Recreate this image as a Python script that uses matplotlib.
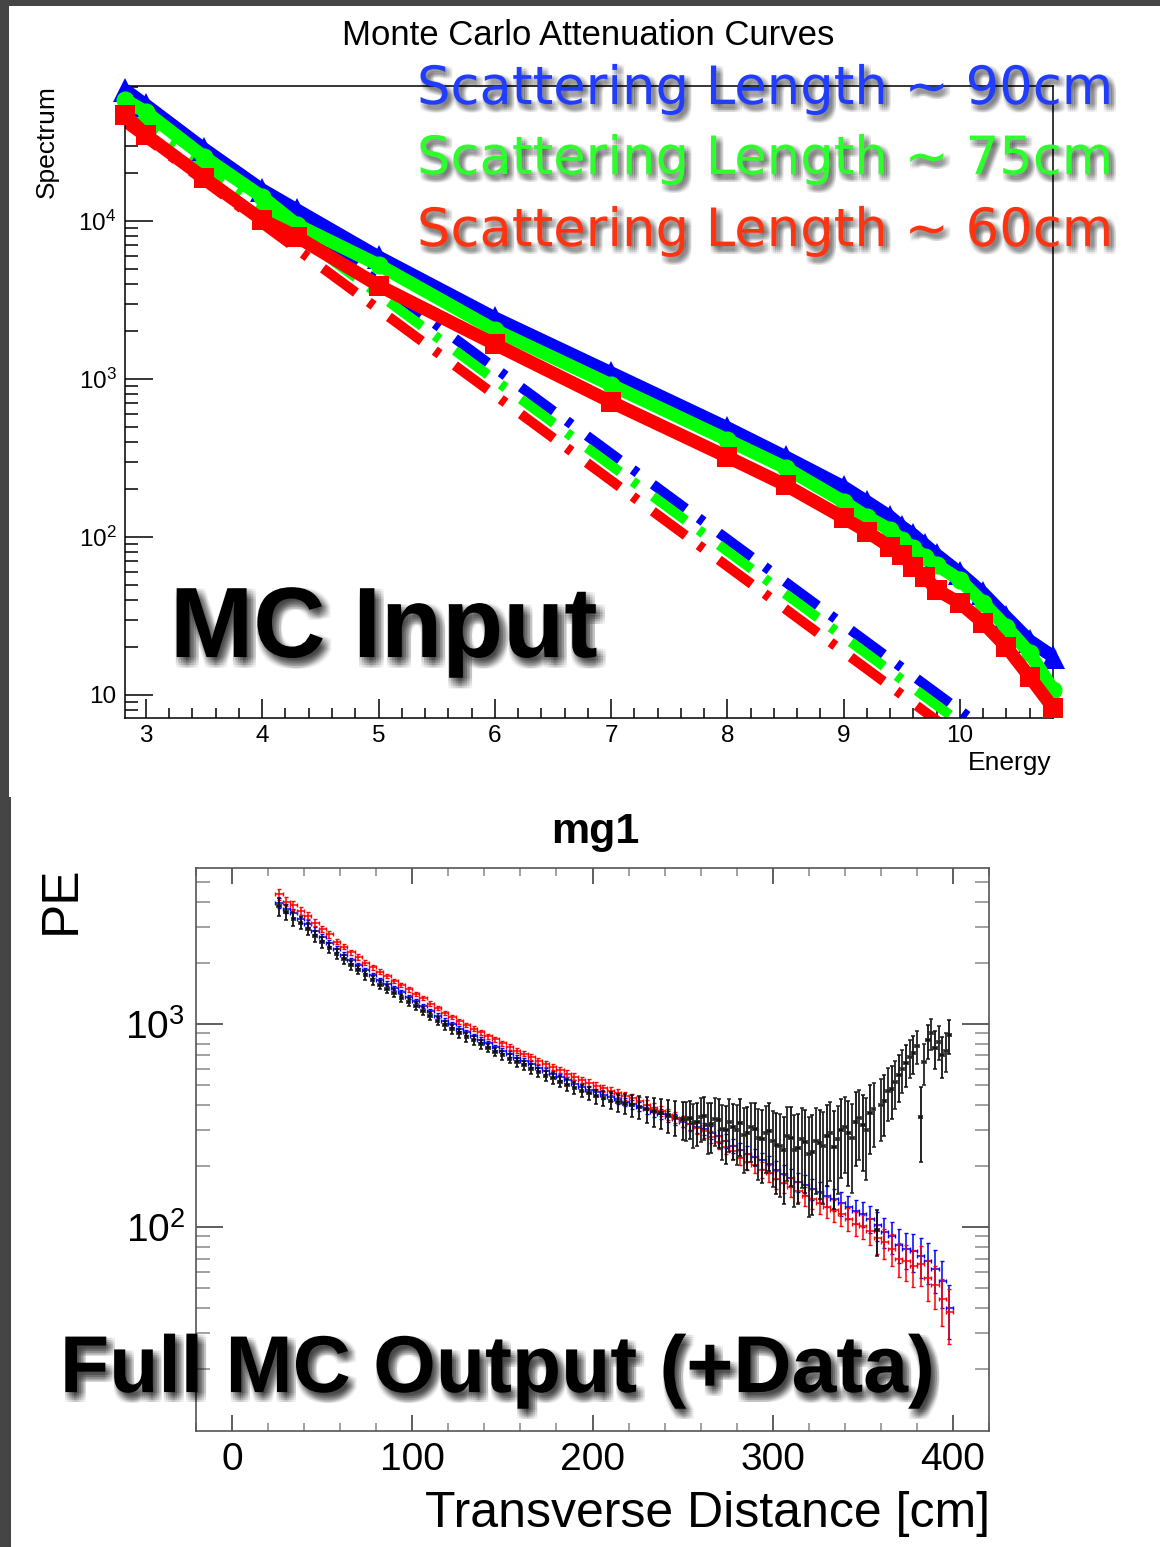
import matplotlib
matplotlib.use('Agg')
import matplotlib.pyplot as plt
import matplotlib.patheffects as pe
from matplotlib.patches import Rectangle
from matplotlib.ticker import FixedLocator, FixedFormatter, LogLocator, MultipleLocator, NullFormatter

# ---------------- data: top panel (MC input spectra) ----------------
energy = [2.82, 3.0, 3.5, 4.0, 4.3, 5.0, 6.0, 7.0, 8.0, 8.5, 9.0, 9.2, 9.4, 9.5,
          9.6, 9.7, 9.8, 10.0, 10.2, 10.4, 10.6, 10.8]
spec_90 = [67500, 54000, 28500, 15700, 11700, 5910, 2430, 1092, 490, 321, 207, 167,
           134, 116, 103, 89, 77, 59, 44, 31, 22, 17.5]
spec_75 = [58300, 48900, 25400, 14200, 9440, 5270, 2040, 916, 411, 274, 167, 134,
           111, 95.7, 85.2, 74.6, 66.5, 53.5, 38.2, 26.9, 18.4, 10.8]
spec_60 = [46900, 35000, 18700, 10150, 7930, 3900, 1660, 715, 321, 213, 132, 108,
           86.5, 76.9, 64.6, 55.8, 46.2, 38.2, 28.6, 20.1, 13.0, 8.3]
energy_dash = [2.82, 10.8]
dash_90 = [62200, 2.94]
dash_75 = [52200, 2.47]
dash_60 = [42000, 1.98]

top_title = "Monte Carlo Attenuation Curves"
top_xticks = [3, 4, 5, 6, 7, 8, 9, 10]
top_xticklabels = ["3", "4", "5", "6", "7", "8", "9", "10"]
top_yticks = [10, 100, 1000, 10000]
top_yticklabels = ["10", r"$\mathregular{10^{2}}$", r"$\mathregular{10^{3}}$", r"$\mathregular{10^{4}}$"]
legend_labels = ["Scattering Length ~ 90cm", "Scattering Length ~ 75cm", "Scattering Length ~ 60cm"]

# ---------------- data: bottom panel (full MC output + data) ----------------
x_cm = [26, 30, 34, 38, 42, 46, 50, 54, 58, 62,
        66, 70, 74, 78, 82, 86, 90, 94, 98, 102,
        106, 110, 114, 118, 122, 126, 130, 134, 138, 142,
        146, 150, 154, 158, 162, 166, 170, 174, 178, 182,
        186, 190, 194, 198, 202, 206, 210, 214, 218, 222,
        226, 230, 234, 238, 242, 246, 250, 254, 258, 262,
        266, 270, 274, 278, 282, 286, 290, 294, 298, 302,
        306, 310, 314, 318, 322, 326, 330, 334, 338, 342,
        346, 350, 354, 358, 362, 366, 370, 374, 378, 382,
        386, 390, 394, 398]
pe_red = [4350, 4000, 3850, 3600, 3420, 3150, 2930, 2760, 2540, 2400,
          2250, 2140, 2000, 1900, 1810, 1720, 1630, 1560, 1480, 1410,
          1340, 1260, 1200, 1130, 1085, 1030, 990, 950, 910, 870,
          840, 805, 770, 740, 715, 690, 660, 635, 612, 592,
          570, 550, 528, 512, 495, 482, 470, 456, 442, 430,
          416, 400, 386, 372, 358, 346, 332, 320, 308, 296,
          278, 262, 248, 236, 220, 210, 202, 192, 184, 172,
          164, 158, 150, 142, 138, 132, 126, 121, 116, 110,
          104, 101, 96, 88, 84, 78, 70, 68, 64, 66,
          56, 52, 44, 38]
pe_blue = [3950, 3700, 3520, 3300, 3120, 2880, 2680, 2500, 2340, 2190,
           2060, 1950, 1840, 1740, 1650, 1580, 1500, 1430, 1360, 1295,
           1225, 1160, 1100, 1040, 995, 950, 910, 870, 838, 805,
           770, 740, 712, 683, 660, 634, 610, 587, 566, 547,
           528, 508, 490, 475, 460, 448, 437, 425, 414, 403,
           392, 380, 370, 360, 350, 340, 331, 322, 312, 304,
           292, 280, 266, 252, 240, 230, 222, 213, 204, 192,
           183, 175, 167, 162, 154, 149, 142, 137, 131, 126,
           120, 116, 110, 102, 95, 90, 82, 78, 76, 72,
           68, 62, 54, 40]
pe_data = [3800, 3550, 3300, 3150, 2950, 2700, 2520, 2370, 2220, 2080,
           1950, 1850, 1740, 1640, 1560, 1490, 1420, 1350, 1290, 1225,
           1160, 1100, 1040, 985, 940, 900, 860, 830, 795, 760,
           730, 700, 676, 648, 625, 600, 578, 556, 540, 520,
           502, 485, 468, 455, 440, 432, 420, 412, 405, 398,
           392, 380, 372, 365, 356, 350, 340, 345, 330, 352,
           320, 335, 300, 310, 325, 290, 305, 270, 298, 255,
           240, 275, 245, 262, 235, 258, 280, 248, 300, 290,
           330, 318, 365, 97, 420, 480, 560, 640, 720, 350,
           830, 760, 700, 880]
pe_data_err = [380, 300, 260, 220, 200, 170, 150, 140, 130, 110,
               100, 90, 85, 80, 75, 70, 65, 60, 58, 55,
               52, 50, 48, 46, 44, 42, 40, 40, 38, 36,
               36, 35, 34, 34, 33, 33, 32, 32, 32, 32,
               32, 33, 33, 34, 35, 38, 40, 42, 45, 48,
               50, 55, 60, 62, 65, 70, 72, 75, 80, 85,
               88, 90, 95, 95, 100, 100, 105, 105, 110, 110,
               110, 115, 115, 115, 120, 120, 120, 125, 125, 130,
               130, 130, 135, 25, 140, 140, 145, 150, 150, 140,
               155, 160, 160, 165]
# extra data bins in the noisy tail
x_cm_tail = [252, 256, 260, 264, 268, 272, 276, 280, 284, 288,
             292, 296, 300, 304, 308, 312, 316, 320, 324, 328,
             332, 336, 340, 344, 348, 352, 356, 360, 364, 368,
             372, 376, 380, 384, 388, 392, 396]
pe_data_tail = [340, 325, 348, 318, 340, 305, 330, 300, 285, 310,
                275, 290, 265, 250, 280, 240, 270, 230, 265, 250,
                290, 270, 310, 275, 345, 300, 380, 400, 470, 520,
                600, 690, 780, 650, 900, 820, 740]
pe_data_tail_err = [75, 80, 85, 88, 90, 92, 95, 98, 100, 100,
                    105, 105, 108, 110, 112, 115, 115, 118, 120, 120,
                    122, 125, 125, 128, 130, 130, 132, 135, 138, 140,
                    142, 145, 148, 150, 155, 158, 160]
mc_rel_err = [0.06, 0.05, 0.05, 0.045, 0.04, 0.04, 0.035, 0.035, 0.03, 0.03,
              0.03, 0.03, 0.028, 0.028, 0.026, 0.026, 0.025, 0.025, 0.025, 0.025,
              0.025, 0.025, 0.025, 0.025, 0.025, 0.026, 0.026, 0.027, 0.027, 0.028,
              0.028, 0.029, 0.03, 0.03, 0.031, 0.032, 0.033, 0.034, 0.035, 0.036,
              0.037, 0.038, 0.04, 0.041, 0.042, 0.044, 0.045, 0.047, 0.048, 0.05,
              0.052, 0.054, 0.056, 0.058, 0.06, 0.062, 0.064, 0.066, 0.068, 0.07,
              0.072, 0.075, 0.078, 0.08, 0.083, 0.086, 0.09, 0.093, 0.096, 0.1,
              0.1, 0.105, 0.11, 0.11, 0.115, 0.12, 0.12, 0.125, 0.13, 0.13,
              0.135, 0.14, 0.15, 0.16, 0.17, 0.18, 0.19, 0.2, 0.21, 0.22,
              0.23, 0.24, 0.26, 0.3]
bot_xticks = [0, 100, 200, 300, 400]
bot_xticklabels = ["0", "100", "200", "300", "400"]
bot_yticks = [100, 1000]
bot_yticklabels = [r"$\mathregular{10^{2}}$", r"$\mathregular{10^{3}}$"]

# ---------------- style ----------------
W, H = 1160, 1547
plt.rcParams['font.family'] = ['Liberation Sans', 'DejaVu Sans']
plt.rcParams['mathtext.fontset'] = 'custom'
plt.rcParams['mathtext.rm'] = 'Liberation Sans'
plt.rcParams['mathtext.it'] = 'Liberation Sans:italic'
plt.rcParams['mathtext.bf'] = 'Liberation Sans:bold'
plt.rcParams['lines.scale_dashes'] = False

fig = plt.figure(figsize=(W / 100, H / 100), dpi=100, facecolor='#454545')


def rect(l, t, r, b):
    return [l / W, 1 - b / H, (r - l) / W, (b - t) / H]


def fx(px):
    return px / W


def fy(py):
    return 1 - py / H


fig.add_artist(Rectangle((9 / W, fy(797)), 1 - 9 / W, (797 - 6) / H,
                         transform=fig.transFigure, facecolor='white', edgecolor='none', zorder=-5))
fig.add_artist(Rectangle((11 / W, 0), 1 - 11 / W, (H - 797) / H,
                         transform=fig.transFigure, facecolor='white', edgecolor='none', zorder=-5))


def soft_shadow(dx, dy, radius, alpha, n=5):
    effs = []
    steps = [radius * (2 * i / (n - 1) - 1) for i in range(n)]
    for ox in steps:
        for oy in steps:
            effs.append(pe.SimplePatchShadow(offset=(dx + ox, dy + oy), shadow_rgbFace='black',
                                             alpha=alpha))
    effs.append(pe.Normal())
    return effs


# ---------------- top panel ----------------
ax1 = fig.add_axes(rect(125, 86, 1053, 718))
ax1.set_yscale('log')
ax1.set_xlim(2.82, 10.8)
ax1.set_ylim(7.15, 71450)

dash_style = (0, (29.5, 11.5, 4.3, 13.7))
for yd, c in [(dash_90, '#0000ff'), (dash_75, '#00ff00'), (dash_60, '#ff0000')]:
    ax1.plot(energy_dash, yd, color=c, lw=7.2, linestyle=dash_style, dash_capstyle='butt', zorder=2)

for ys, c, m, ms in [(spec_90, '#0000ff', '^', 17), (spec_75, '#00ff00', 'o', 13), (spec_60, '#ff0000', 's', 14)]:
    ax1.plot(energy, ys, color=c, lw=9.5, marker=m, markersize=ms, markeredgewidth=0,
             solid_joinstyle='round', solid_capstyle='butt', clip_on=False, zorder=3)

for s in ax1.spines.values():
    s.set_linewidth(1.1)
    s.set_color('black')
ax1.xaxis.set_major_locator(FixedLocator(top_xticks))
ax1.xaxis.set_major_formatter(FixedFormatter(top_xticklabels))
ax1.xaxis.set_minor_locator(MultipleLocator(0.2))
ax1.yaxis.set_major_locator(FixedLocator(top_yticks))
ax1.yaxis.set_major_formatter(FixedFormatter(top_yticklabels))
ax1.yaxis.set_minor_locator(LogLocator(base=10, subs=range(2, 10), numticks=20))
ax1.yaxis.set_minor_formatter(NullFormatter())
ax1.tick_params(which='both', direction='in', top=False, right=False, color='black', width=1.1)
ax1.tick_params(axis='x', which='major', length=13.7, pad=5, labelsize=17.5)
ax1.tick_params(axis='x', which='minor', length=7.2)
ax1.tick_params(axis='y', which='major', length=20, pad=6, labelsize=17.5)
ax1.tick_params(axis='y', which='minor', length=9.4)

fig.text(fx(588), fy(45), top_title, ha='center', va='baseline', fontsize=25)
fig.text(fx(47), fy(85), "Spectrum", rotation=90, ha='center', va='top', fontsize=19)
fig.text(fx(1052), fy(770), "Energy", ha='right', va='baseline', fontsize=19)

leg_colors = ['#1f3cff', '#2cff2c', '#ff3310']
leg_base = [104, 174, 246]
for lab, c, yb in zip(legend_labels, leg_colors, leg_base):
    fig.text(fx(417), fy(yb), lab, ha='left', va='baseline', fontsize=38, color=c,
             family=['DejaVu Sans'],
             path_effects=soft_shadow(2.5, -3.0, 2.6, 0.04), zorder=10)

fig.text(fx(170), fy(657), "MC Input", ha='left', va='baseline', fontsize=72, fontweight='bold',
         color='black', path_effects=soft_shadow(3.0, -4.0, 3.6, 0.05), zorder=10)

# ---------------- bottom panel ----------------
ax2 = fig.add_axes(rect(196, 868, 989, 1431))
ax2.set_yscale('log')
ax2.set_xlim(-20, 420)
ax2.set_ylim(9.9, 5865)

blue_err = [v * r for v, r in zip(pe_blue, mc_rel_err)]
red_err = [v * r for v, r in zip(pe_red, mc_rel_err)]
ax2.errorbar(x_cm, pe_blue, yerr=blue_err, xerr=2, fmt='none', ecolor='#0000ff',
             elinewidth=1.1, capsize=1.6, capthick=1.0, zorder=2)
ax2.errorbar(x_cm, pe_red, yerr=red_err, xerr=2, fmt='none', ecolor='#ff0000',
             elinewidth=1.1, capsize=1.6, capthick=1.0, zorder=3)
ax2.errorbar(x_cm, pe_data, yerr=pe_data_err, xerr=1, fmt='none', ecolor='#111111',
             elinewidth=1.3, capsize=1.6, capthick=1.1, zorder=4)
ax2.errorbar(x_cm_tail, pe_data_tail, yerr=pe_data_tail_err, xerr=1, fmt='none', ecolor='#222222',
             elinewidth=1.3, capsize=1.6, capthick=1.1, zorder=4)

for s in ax2.spines.values():
    s.set_linewidth(1.2)
    s.set_color('#555555')
ax2.xaxis.set_major_locator(FixedLocator(bot_xticks))
ax2.xaxis.set_major_formatter(FixedFormatter(bot_xticklabels))
ax2.xaxis.set_minor_locator(MultipleLocator(20))
ax2.yaxis.set_major_locator(FixedLocator(bot_yticks))
ax2.yaxis.set_major_formatter(FixedFormatter(bot_yticklabels))
ax2.yaxis.set_minor_locator(LogLocator(base=10, subs=range(2, 10), numticks=20))
ax2.yaxis.set_minor_formatter(NullFormatter())
ax2.tick_params(which='both', direction='in', top=True, right=True, width=1.1)
ax2.tick_params(which='major', color='#333333')
ax2.tick_params(which='minor', color='#888888')
ax2.tick_params(axis='x', which='major', length=11.5, pad=8, labelsize=28)
ax2.tick_params(axis='x', which='minor', length=5.8)
ax2.tick_params(axis='y', which='major', length=19.4, pad=8, labelsize=28)
ax2.tick_params(axis='y', which='minor', length=10)

fig.text(fx(595), fy(843), "mg1", ha='center', va='baseline', fontsize=31, fontweight='bold')
fig.text(fx(61), fy(865), "PE", rotation=90, ha='center', va='top', fontsize=37)
fig.text(fx(990), fy(1527), "Transverse Distance [cm]", ha='right', va='baseline', fontsize=36)

fig.text(fx(60), fy(1392), "Full MC Output (+Data)", ha='left', va='baseline', fontsize=58,
         fontweight='bold', color='black', path_effects=soft_shadow(3.0, -4.0, 3.2, 0.05),
         zorder=10)

fig.savefig('out.png', dpi=100, facecolor=fig.get_facecolor())
